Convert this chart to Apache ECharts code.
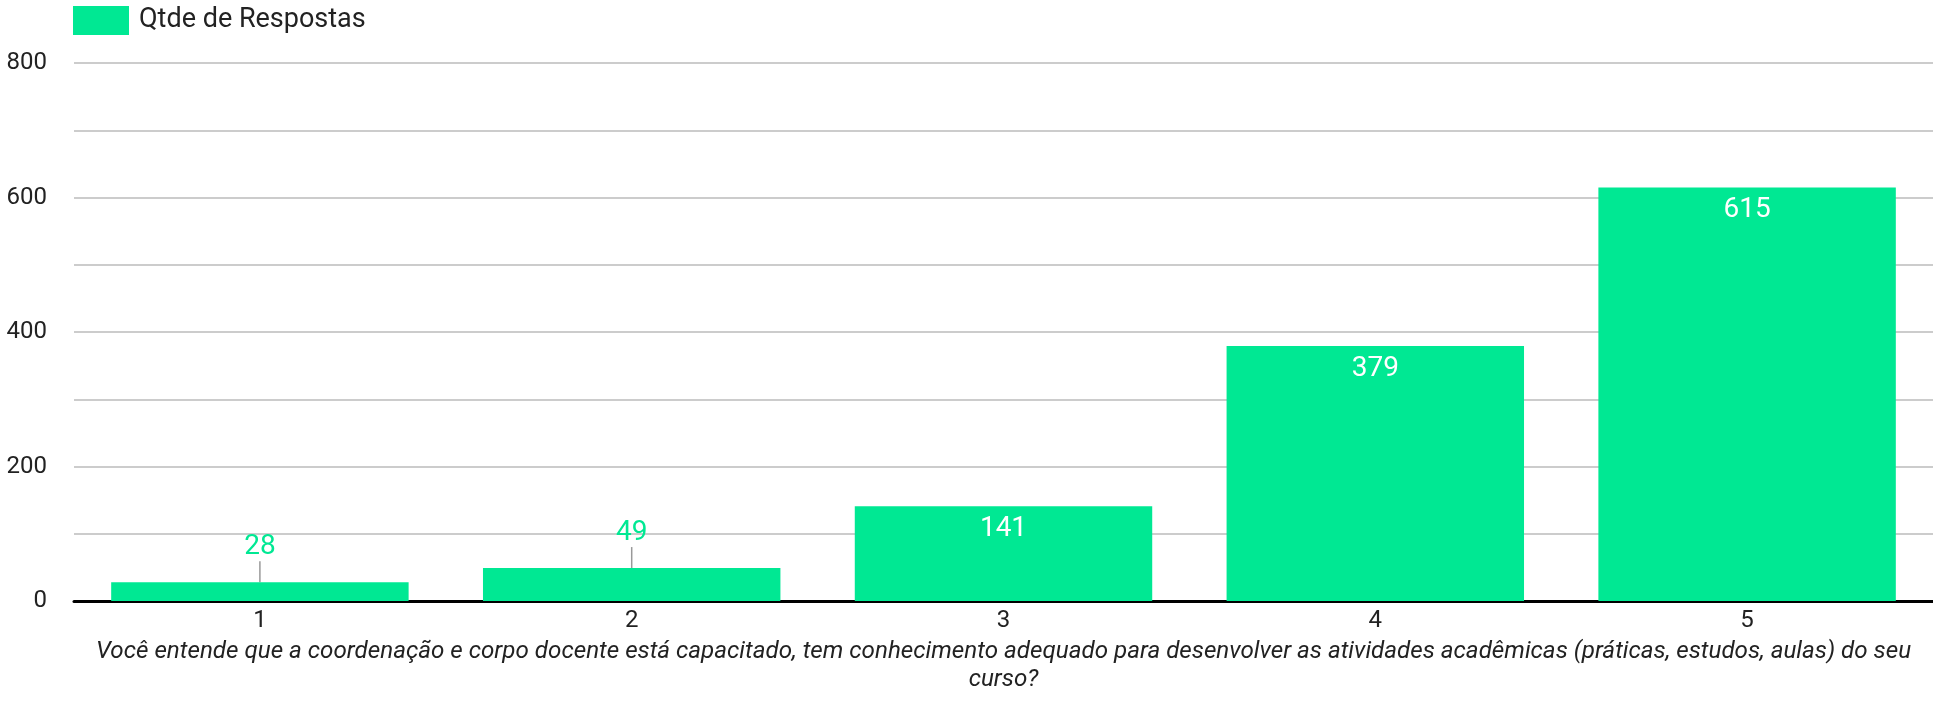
<!DOCTYPE html>
<html>
<head>
<meta charset="utf-8">
<script src="https://cdn.jsdelivr.net/npm/echarts@6/dist/echarts.min.js"></script>
<style>
  html, body { margin: 0; padding: 0; background: #fff; }
  #chart { width: 1933px; height: 704px; }
</style>
</head>
<body>
<div id="chart"></div>
<script>
// data
var categories = ['1', '2', '3', '4', '5'];
var respostas = [28, 49, 141, 379, 615];
var seriesName = 'Qtde de Respostas';
var axisTitle = 'Você entende que a coordenação e corpo docente está capacitado, tem conhecimento adequado para desenvolver as atividades acadêmicas (práticas, estudos, aulas) do seu\ncurso?';

var green = '#00e893';

// small bars get their label above with a short leader line, tall bars inside in white
var barData = respostas.map(function (v) {
    if (v < 100) {
        return {
            value: v,
            label: { position: 'top', distance: 2, color: green },
            labelLine: { show: true, lineStyle: { color: '#999', width: 1.5 } }
        };
    }
    return { value: v };
});

var option = {
    animation: false,
    textStyle: { fontFamily: 'Roboto' },
    legend: {
        left: 73,
        top: 6,
        padding: 0,
        icon: 'rect',
        itemWidth: 56,
        itemHeight: 29,
        textStyle: { fontSize: 27, color: '#222', padding: [3, 0, 0, 5] },
        data: [seriesName]
    },
    grid: {
        left: 74,
        right: 0,
        top: 63,
        bottom: 103
    },
    xAxis: {
        type: 'category',
        data: categories,
        axisLine: { lineStyle: { color: '#000', width: 3 } },
        axisTick: { show: false },
        axisLabel: { fontSize: 24, color: '#222', margin: 8 },
        name: axisTitle,
        nameLocation: 'middle',
        nameGap: 36,
        nameTextStyle: {
            fontSize: 24.2,
            fontStyle: 'italic',
            color: '#222',
            align: 'center',
            verticalAlign: 'top',
            lineHeight: 28
        }
    },
    yAxis: {
        type: 'value',
        min: 0,
        max: 800,
        interval: 200,
        axisLine: { show: false },
        axisTick: { show: false },
        axisLabel: { fontSize: 24, color: '#222', margin: 27 },
        splitLine: { lineStyle: { color: '#ccc', width: 2 } },
        minorTick: { show: false, splitNumber: 2 },
        minorSplitLine: { show: true, lineStyle: { color: '#ccc', width: 2 } }
    },
    series: [{
        name: seriesName,
        type: 'bar',
        data: barData,
        barCategoryGap: '20%',
        itemStyle: { color: green },
        label: {
            show: true,
            position: 'insideTop',
            distance: 9,
            fontSize: 28,
            color: '#fff'
        },
        labelLayout: function (params) {
            return respostas[params.dataIndex] < 100 ? { dy: -19 } : {};
        }
    }]
};

var myChart = echarts.init(document.getElementById('chart'));
myChart.setOption(option);
</script>
</body>
</html>
